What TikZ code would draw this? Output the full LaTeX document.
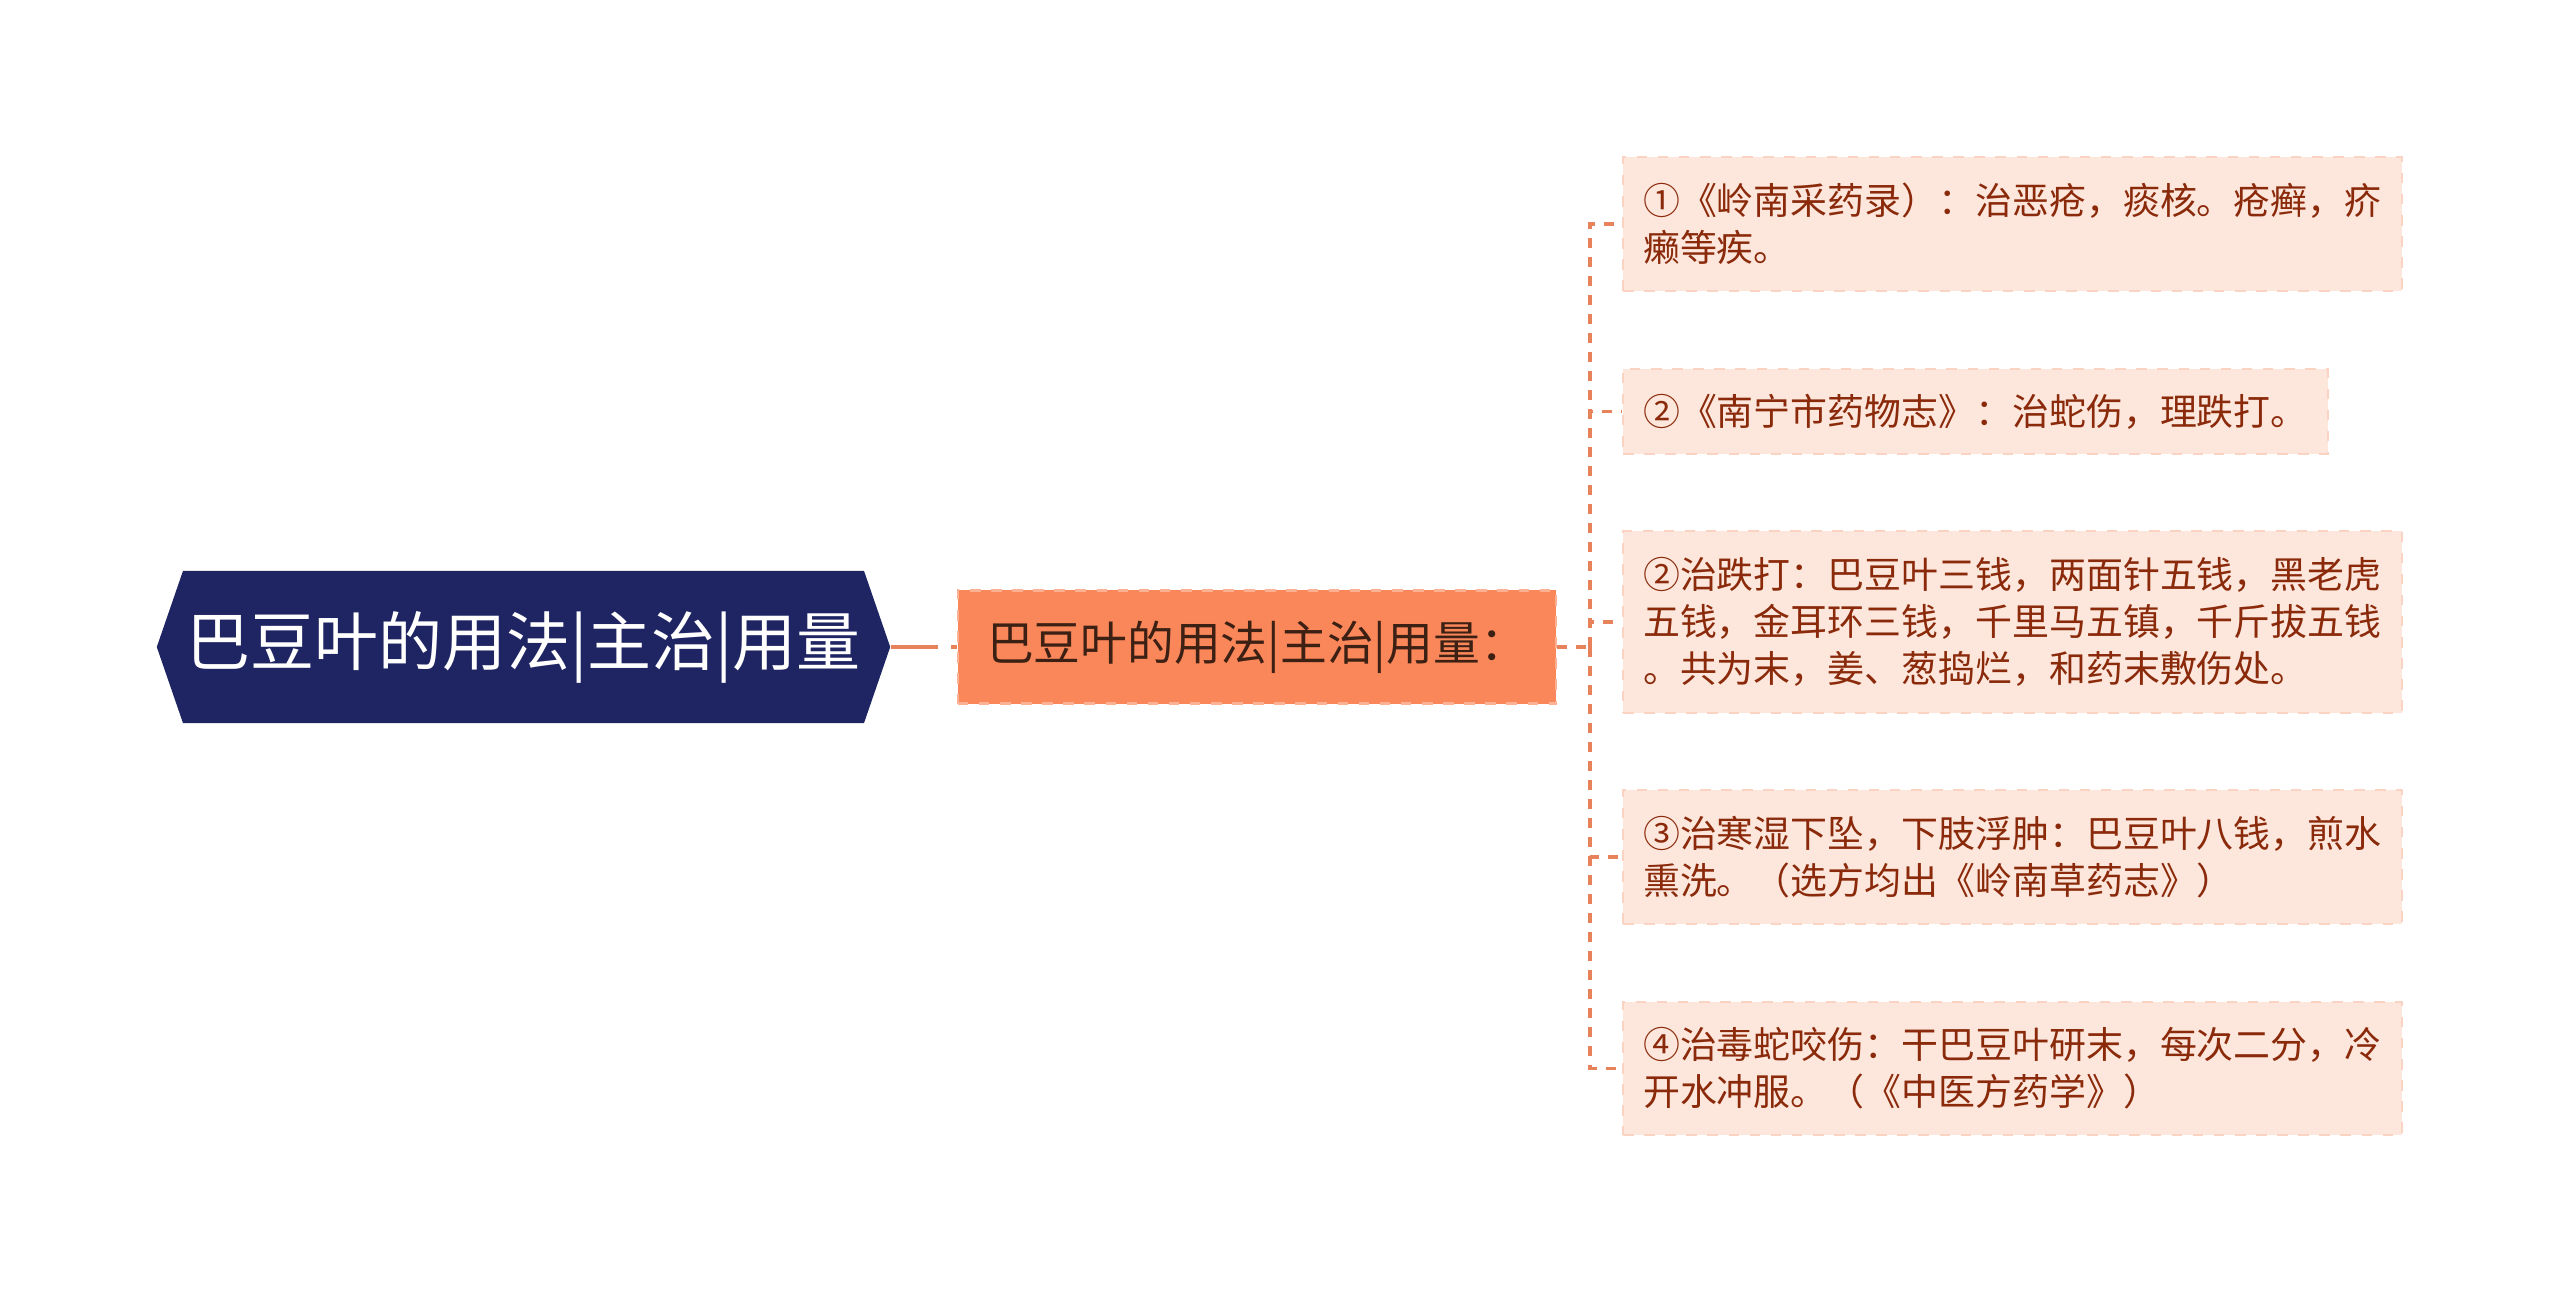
\documentclass[tikz,border=0pt]{standalone}
\usepackage{fontspec}
\newfontfamily\cjk{Noto Sans CJK SC}
\usetikzlibrary{shapes.symbols}

\definecolor{rootblue}{HTML}{1F2562}
\definecolor{midorange}{HTML}{FA875A}
\definecolor{midedge}{HTML}{FCB195}
\definecolor{leaffill}{HTML}{FDE7DC}
\definecolor{leafedge}{HTML}{FBD3C2}
\definecolor{leaftext}{HTML}{8A2A0B}
\definecolor{midtext}{HTML}{3C2014}
\definecolor{linkcolor}{HTML}{E8825A}

\tikzset{
  rootnode/.style={signal, signal to=west and east, signal pointer angle=142,
    fill=rootblue, text=white, minimum width=7.33cm, minimum height=1.52cm,
    inner xsep=0pt, font=\cjk\fontsize{18.2}{22}\selectfont},
  midnode/.style={fill=midorange, draw=midedge, dashed, line width=0.6pt,
    text=midtext, minimum width=5.98cm, minimum height=1.13cm,
    font=\cjk\fontsize{13.3}{16}\selectfont},
  leafnode/.style={fill=leaffill, draw=leafedge, dashed, line width=0.6pt,
    text=leaftext, anchor=west, align=left, inner xsep=0.2cm, inner ysep=0pt,
    font=\cjk\fontsize{10.5}{13.3}\selectfont},
  link/.style={draw=linkcolor, line width=1pt, dash pattern=on 0.1cm off 0.09cm},
}

\begin{document}
\begin{tikzpicture}[x=0.01cm, y=-0.01cm]
    \useasboundingbox (0, 0) rectangle (2560, 1295);

    \node[rootnode] (root) at (523.5, 647) {巴豆叶的用法|主治|用量};
    \node[midnode] (mid) at (1257, 647) {巴豆叶的用法|主治|用量：};

    \node[leafnode, minimum height=1.34cm] (l1) at (1622, 224)
        {①《岭南采药录）：治恶疮，痰核。疮癣，疥\\癞等疾。};
    \node[leafnode, minimum height=0.85cm] (l2) at (1622, 411.5)
        {②《南宁市药物志》：治蛇伤，理跌打。};
    \node[leafnode, minimum height=1.82cm] (l3) at (1622, 622)
        {②治跌打：巴豆叶三钱，两面针五钱，黑老虎\\五钱，金耳环三钱，千里马五镇，千斤拔五钱\\。共为末，姜、葱捣烂，和药末敷伤处。};
    \node[leafnode, minimum height=1.34cm] (l4) at (1622, 857)
        {③治寒湿下坠，下肢浮肿：巴豆叶八钱，煎水\\熏洗。（选方均出《岭南草药志》）};
    \node[leafnode, minimum height=1.33cm] (l5) at (1622, 1068.5)
        {④治毒蛇咬伤：干巴豆叶研末，每次二分，冷\\开水冲服。（《中医方药学》）};

    \coordinate (trunk) at (1590, 647);

    \draw[link, dash pattern=on 0.47cm off 0.13cm, line width=1.3pt] (root.east) -- (mid.west);
    \draw[link] (mid.east) -- (trunk);
    \foreach \leaf in {l1, l2, l3, l4, l5}
        \draw[link] (trunk) |- (\leaf.west);
\end{tikzpicture}
\end{document}
